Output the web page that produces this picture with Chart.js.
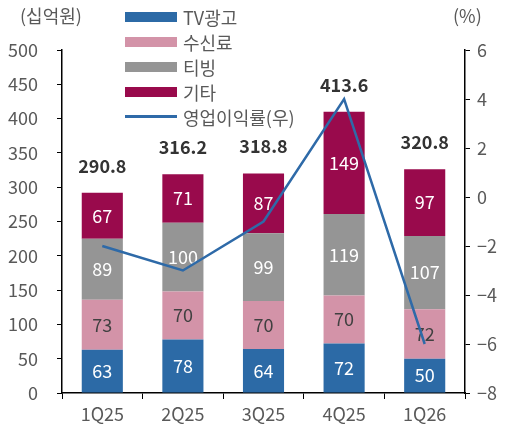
<!DOCTYPE html>
<html>
<head>
<meta charset="utf-8">
<script src="https://cdn.jsdelivr.net/npm/chart.js@4"></script>
<style>
    body { margin: 0; background: #fff; }
    #wrap { position: relative; width: 509px; height: 432px; font-family: "Noto Sans CJK KR", "Noto Sans", sans-serif; }
    .unit { position: absolute; top: 3px; font-size: 18px; line-height: 24px; color: #595959; }
    #legend { position: absolute; left: 125px; top: 4px; }
    .item { height: 25px; display: flex; align-items: center; font-size: 18px; color: #595959; }
    .sw { width: 52px; height: 10px; margin-right: 6px; }
    .ln { width: 52px; height: 3px; margin-right: 6px; }
</style>
</head>
<body>
<div id="wrap">
    <canvas id="chart" width="509" height="432"></canvas>
    <div class="unit" style="left:20px">(십억원)</div>
    <div class="unit" style="left:453px">(%)</div>
    <div id="legend"></div>
</div>
<script>
"use strict";

var quarters = ["1Q25", "2Q25", "3Q25", "4Q25", "1Q26"];
var tvAd = [63, 78, 64, 72, 50];
var fee = [73, 70, 70, 70, 72];
var tving = [89, 100, 99, 119, 107];
var etc = [67, 71, 87, 149, 97];
var totals = ["290.8", "316.2", "318.8", "413.6", "320.8"];
var margin = [-2, -3, -1, 4, -6];

var FONT = '"Noto Sans CJK KR", "Noto Sans", sans-serif';

var barSets = [
    { label: "TV광고", data: tvAd, color: "#2c6aa6", text: "#ffffff" },
    { label: "수신료", data: fee, color: "#d393a8", text: "#404040" },
    { label: "티빙", data: tving, color: "#959595", text: "#ffffff" },
    { label: "기타", data: etc, color: "#990a4c", text: "#ffffff" }
];
var lineSet = { label: "영업이익률(우)", data: margin, color: "#2e6aa8" };

// legend
var legend = document.getElementById("legend");
barSets.forEach(function (s) {
    legend.innerHTML += '<div class="item"><span class="sw" style="background:' + s.color + '"></span>' + s.label + '</div>';
});
legend.innerHTML += '<div class="item"><span class="ln" style="background:' + lineSet.color + '"></span>' + lineSet.label + '</div>';

var segLabels = {
    id: "segLabels",
    afterDatasetDraw: function (chart, args) {
        if (args.meta.type !== "bar") return;
        var ds = chart.data.datasets[args.index];
        var ctx = chart.ctx;
        ctx.save();
        ctx.font = "18px " + FONT;
        ctx.textAlign = "center";
        ctx.textBaseline = "middle";
        ctx.fillStyle = ds.textColor;
        args.meta.data.forEach(function (el, i) {
            ctx.fillText(ds.data[i], el.x, (el.y + el.base) / 2);
        });
        ctx.restore();
    },
    afterDatasetsDraw: function (chart) {
        var top = chart.getDatasetMeta(barSets.length - 1);
        var ctx = chart.ctx;
        ctx.save();
        ctx.font = "bold 18px " + FONT;
        ctx.textAlign = "center";
        ctx.textBaseline = "middle";
        ctx.fillStyle = "#333333";
        top.data.forEach(function (el, i) {
            ctx.fillText(totals[i], el.x, el.y - 27);
        });
        ctx.restore();
    }
};

var datasets = barSets.map(function (s) {
    return {
        type: "bar",
        label: s.label,
        data: s.data,
        backgroundColor: s.color,
        textColor: s.text,
        yAxisID: "y",
        order: 2,
        categoryPercentage: 1,
        barPercentage: 0.51
    };
});
datasets.push({
    type: "line",
    label: lineSet.label,
    data: lineSet.data,
    borderColor: lineSet.color,
    borderWidth: 2.5,
    pointRadius: 0,
    tension: 0,
    yAxisID: "y1",
    order: 1
});

new Chart(document.getElementById("chart"), {
    type: "bar",
    data: { labels: quarters, datasets: datasets },
    plugins: [segLabels],
    options: {
        responsive: false,
        animation: false,
        layout: { padding: { top: 50, left: 0, right: 0, bottom: 0 } },
        plugins: {
            legend: { display: false },
            tooltip: { enabled: false }
        },
        scales: {
            x: {
                stacked: true,
                afterFit: function (s) { s.height = 39; },
                border: { color: "#000", width: 1.5 },
                grid: { drawOnChartArea: false, color: "#000", tickLength: 6, offset: true },
                ticks: { color: "#595959", font: { size: 18, family: FONT }, padding: 4 }
            },
            y: {
                stacked: true,
                position: "left",
                min: 0,
                max: 500,
                afterFit: function (s) { s.width = 62; },
                border: { color: "#000", width: 1.5 },
                grid: { drawOnChartArea: false, color: "#000", tickLength: 5 },
                ticks: { stepSize: 50, color: "#595959", font: { size: 18, family: FONT }, padding: 19 }
            },
            y1: {
                position: "right",
                min: -8,
                max: 6,
                afterFit: function (s) { s.width = 44; },
                border: { color: "#000", width: 1.5 },
                grid: { drawOnChartArea: false, color: "#000", tickLength: 5 },
                ticks: {
                    stepSize: 2,
                    color: "#595959",
                    font: { size: 18, family: FONT },
                    padding: 7,
                    callback: function (v) { return String(v).replace("-", "\u2212"); }
                }
            }
        }
    }
});
</script>
</body>
</html>
